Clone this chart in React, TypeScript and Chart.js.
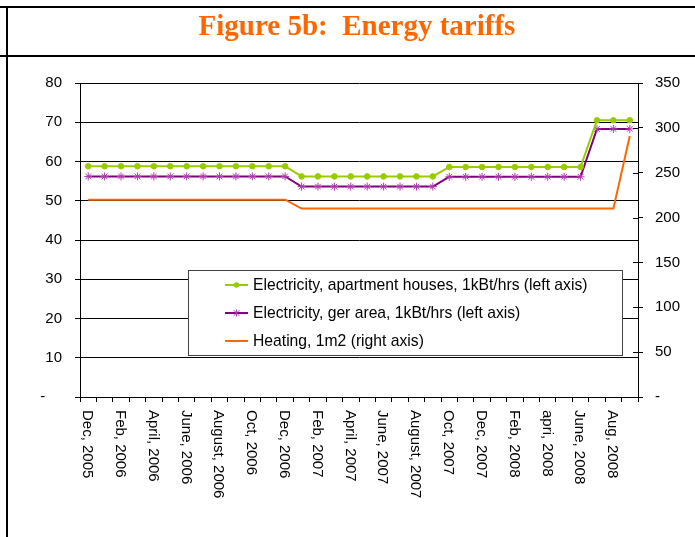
import React, { useEffect, useRef } from 'react';
import { Chart, registerables } from 'chart.js';

Chart.register(...registerables);

// Monthly categories, Dec 2005 .. Sep 2008
const months = [
  'Dec 2005', 'Jan 2006', 'Feb 2006', 'Mar 2006', 'Apr 2006', 'May 2006', 'Jun 2006', 'Jul 2006',
  'Aug 2006', 'Sep 2006', 'Oct 2006', 'Nov 2006', 'Dec 2006', 'Jan 2007', 'Feb 2007', 'Mar 2007',
  'Apr 2007', 'May 2007', 'Jun 2007', 'Jul 2007', 'Aug 2007', 'Sep 2007', 'Oct 2007', 'Nov 2007',
  'Dec 2007', 'Jan 2008', 'Feb 2008', 'Mar 2008', 'Apr 2008', 'May 2008', 'Jun 2008', 'Jul 2008',
  'Aug 2008', 'Sep 2008',
];

// Tick labels shown on every second month
const tickLabels = [
  'Dec, 2005', 'Feb, 2006', 'April, 2006', 'June, 2006', 'August, 2006', 'Oct, 2006',
  'Dec, 2006', 'Feb, 2007', 'April, 2007', 'June, 2007', 'August, 2007', 'Oct, 2007',
  'Dec, 2007', 'Feb, 2008', 'apri, 2008', 'June, 2008', 'Aug, 2008',
];

const elecApartment = [
  58.8, 58.8, 58.8, 58.8, 58.8, 58.8, 58.8, 58.8, 58.8, 58.8, 58.8, 58.8, 58.8,
  56.2, 56.2, 56.2, 56.2, 56.2, 56.2, 56.2, 56.2, 56.2,
  58.6, 58.6, 58.6, 58.6, 58.6, 58.6, 58.6, 58.6, 58.6,
  70.5, 70.5, 70.5,
];

const elecGer = [
  56.2, 56.2, 56.2, 56.2, 56.2, 56.2, 56.2, 56.2, 56.2, 56.2, 56.2, 56.2, 56.2,
  53.6, 53.6, 53.6, 53.6, 53.6, 53.6, 53.6, 53.6, 53.6,
  56.1, 56.1, 56.1, 56.1, 56.1, 56.1, 56.1, 56.1, 56.1,
  68.3, 68.3, 68.3,
];

const heating = [
  220, 220, 220, 220, 220, 220, 220, 220, 220, 220, 220, 220, 220,
  210, 210, 210, 210, 210, 210, 210, 210, 210, 210, 210, 210, 210, 210, 210, 210, 210, 210, 210, 210,
  291,
];

const seriesLabels = [
  'Electricity, apartment houses, 1kBt/hrs (left axis)',
  'Electricity, ger area, 1kBt/hrs (left axis)',
  'Heating, 1m2 (right axis)',
];

const titleText = 'Figure 5b:  Energy tariffs';

const GREEN = '#99CC00';
const PURPLE = '#800080';
const PURPLE_MARK = '#B03CB0';
const ORANGE = '#FF6600';
const SANS = '"Liberation Sans", Arial, sans-serif';

function drawStar(ctx: CanvasRenderingContext2D, x: number, y: number, r: number, color: string) {
  ctx.save();
  ctx.strokeStyle = color;
  ctx.lineWidth = 1;
  ctx.beginPath();
  ctx.moveTo(x, y - r);
  ctx.lineTo(x, y + r);
  const d = r * 0.8;
  ctx.moveTo(x - d, y - d);
  ctx.lineTo(x + d, y + d);
  ctx.moveTo(x - d, y + d);
  ctx.lineTo(x + d, y - d);
  ctx.stroke();
  ctx.restore();
}

const decorPlugin = {
  id: 'decor',
  afterDraw(chart: any) {
    const ctx: CanvasRenderingContext2D = chart.ctx;
    const W = chart.width;
    const H = chart.height;
    ctx.save();

    // frame lines
    ctx.fillStyle = '#000';
    ctx.fillRect(0, 6, W, 2);
    ctx.fillRect(0, 55, W, 2);
    ctx.fillRect(6, 6, 2, H - 6);

    // title
    ctx.fillStyle = ORANGE;
    ctx.font = 'bold 29px "Liberation Serif", "Times New Roman", serif';
    ctx.textAlign = 'center';
    ctx.textBaseline = 'alphabetic';
    ctx.fillText(titleText, 357, 35);

    // right axis inner tick halves
    const y1 = chart.scales.y1;
    const ca = chart.chartArea;
    ctx.strokeStyle = '#000';
    ctx.lineWidth = 1;
    ctx.beginPath();
    for (let v = 0; v <= 350; v += 50) {
      const py = Math.round(y1.getPixelForValue(v)) + 0.5;
      ctx.moveTo(ca.right - 5, py);
      ctx.lineTo(ca.right, py);
    }
    ctx.stroke();

    // x labels, rotated clockwise
    const xs = chart.scales.x;
    ctx.fillStyle = '#000';
    ctx.font = `15px ${SANS}`;
    ctx.textAlign = 'left';
    ctx.textBaseline = 'middle';
    tickLabels.forEach((lab, k) => {
      const cx = xs.getPixelForValue(k * 2) - 1;
      ctx.save();
      ctx.translate(cx, ca.bottom + 13);
      ctx.rotate(Math.PI / 2);
      ctx.fillText(lab, 0, 0);
      ctx.restore();
    });

    // legend box
    const bx = 188.5, by = 270.5, bw = 434, bh = 85;
    ctx.fillStyle = '#fff';
    ctx.fillRect(bx, by, bw, bh);
    ctx.strokeStyle = '#444';
    ctx.lineWidth = 1;
    ctx.strokeRect(bx, by, bw, bh);

    const rows = [285, 313, 341];
    const cols = [GREEN, PURPLE, ORANGE];
    ctx.font = `15.7px ${SANS}`;
    ctx.textAlign = 'left';
    ctx.textBaseline = 'middle';
    rows.forEach((ry, i) => {
      ctx.strokeStyle = cols[i];
      ctx.lineWidth = 2;
      ctx.beginPath();
      ctx.moveTo(225, ry);
      ctx.lineTo(248, ry);
      ctx.stroke();
      if (i === 0) {
        ctx.fillStyle = GREEN;
        ctx.beginPath();
        ctx.arc(236.5, ry, 2.7, 0, Math.PI * 2);
        ctx.fill();
      } else if (i === 1) {
        drawStar(ctx, 236.5, ry, 3.5, PURPLE_MARK);
      }
      ctx.fillStyle = '#000';
      ctx.fillText(seriesLabels[i], 253, ry + 1);
    });

    ctx.restore();
  },
};

export default function App() {
  const canvasRef = useRef<HTMLCanvasElement | null>(null);

  useEffect(() => {
    if (!canvasRef.current) return;
    const chart = new Chart(canvasRef.current, {
      type: 'line',
      data: {
        labels: months,
        datasets: [
          {
            label: seriesLabels[0],
            data: elecApartment,
            borderColor: GREEN,
            backgroundColor: GREEN,
            borderWidth: 2,
            pointStyle: 'circle',
            pointRadius: 2.8,
            pointBackgroundColor: GREEN,
            pointBorderColor: GREEN,
            pointBorderWidth: 1,
            tension: 0,
            yAxisID: 'y',
          },
          {
            label: seriesLabels[1],
            data: elecGer,
            borderColor: PURPLE,
            backgroundColor: PURPLE_MARK,
            borderWidth: 2,
            pointStyle: 'star',
            pointRadius: 4,
            pointBorderColor: PURPLE_MARK,
            pointBorderWidth: 1,
            tension: 0,
            yAxisID: 'y',
          },
          {
            label: seriesLabels[2],
            data: heating,
            borderColor: ORANGE,
            backgroundColor: ORANGE,
            borderWidth: 2,
            pointRadius: 0,
            tension: 0,
            yAxisID: 'y1',
          },
        ],
      },
      options: {
        responsive: false,
        animation: false,
        devicePixelRatio: 1,
        layout: { padding: { top: 83, left: 0, right: 0, bottom: 0 } },
        plugins: {
          legend: { display: false },
          title: { display: false },
          tooltip: { enabled: false },
        },
        scales: {
          x: {
            type: 'category',
            offset: true,
            grid: { offset: true, drawOnChartArea: false, drawTicks: true, tickLength: 5, color: '#000' },
            border: { display: true, color: '#000', width: 1 },
            ticks: { display: false, autoSkip: false },
            afterFit: (s: any) => { s.height = 140; },
          },
          y: {
            position: 'left',
            min: 0,
            max: 80,
            ticks: {
              stepSize: 10,
              padding: 13,
              color: '#000',
              font: { family: SANS, size: 15 },
              callback: (v: any) => (Number(v) === 0 ? '-    ' : String(v)),
            },
            grid: { color: '#000', tickLength: 5, lineWidth: 1 },
            border: { display: true, color: '#000', width: 1 },
            afterFit: (s: any) => { s.width = 80; },
          },
          y1: {
            position: 'right',
            min: 0,
            max: 350,
            ticks: {
              stepSize: 50,
              padding: 12,
              color: '#000',
              font: { family: SANS, size: 15 },
              callback: (v: any) => (Number(v) === 0 ? '-' : String(v)),
            },
            grid: { drawOnChartArea: false, color: '#000', tickLength: 5 },
            border: { display: true, color: '#000', width: 1 },
            afterFit: (s: any) => { s.width = 57; },
          },
        },
      },
      plugins: [decorPlugin],
    } as any);
    return () => chart.destroy();
  }, []);

  return (
    <div style={{ position: 'absolute', left: 0, top: 0, width: 695, height: 537, background: '#fff' }}>
      <canvas ref={canvasRef} width={695} height={537} style={{ display: 'block' }} />
    </div>
  );
}
